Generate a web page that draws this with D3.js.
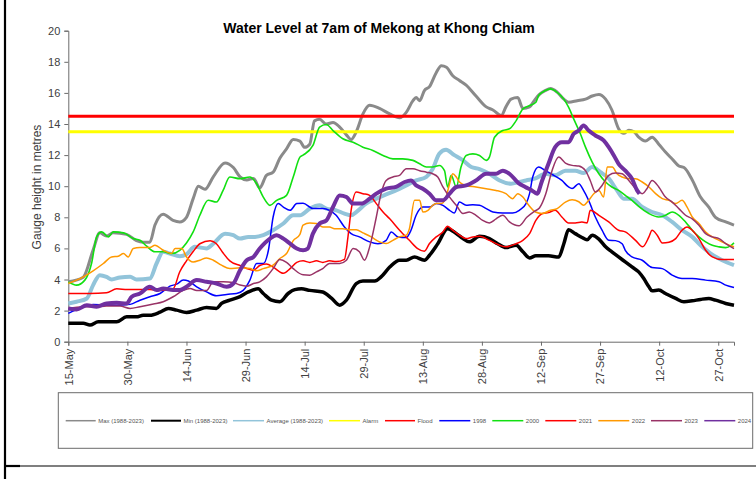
<!DOCTYPE html>
<html>
<head>
<meta charset="utf-8">
<title>Water Level at 7am of Mekong at Khong Chiam</title>
<script src="https://cdn.jsdelivr.net/npm/d3@7"></script>
<style>
  body { margin: 0; background: #fff; }
  svg { display: block; font-family: "Liberation Sans", Arial, sans-serif; }
</style>
</head>
<body>
<svg id="chart" width="756" height="479"></svg>
<script>
// day = days since 15-May, value = gauge height (m)
const startDate = new Date(2024, 4, 15);
const lastDay = 169;

const tickDays = [0, 15, 30, 45, 60, 75, 90, 105, 120, 135, 150, 165];
const tickLabels = ["15-May", "30-May", "14-Jun", "29-Jun", "14-Jul", "29-Jul",
                    "13-Aug", "28-Aug", "12-Sep", "27-Sep", "12-Oct", "27-Oct"];
const yTicks = [0, 2, 4, 6, 8, 10, 12, 14, 16, 18, 20];

const alarmLevel = 13.5;
const floodLevel = 14.5;

const maxLevel = [[0,3.85],[3.8,4.15],[6.3,5.9],[8,7.0],[9.7,6.8],[11.4,7.0],[14.8,6.9],[17.3,6.5],[19,6.4],[20.7,6.4],[22,7.5],[24.1,8.2],[26.6,7.8],[28.3,7.7],[30,8.0],[31.7,9.2],[33,10.0],[34.7,9.8],[36.8,10.6],[39.8,11.5],[41.9,11.2],[43.6,10.6],[45.3,10.4],[47,10.5],[48.6,9.9],[50.3,10.7],[52,10.9],[53.7,11.8],[55.4,12.4],[57.1,13.0],[58.8,12.9],[60,12.5],[61.3,12.7],[62.5,14.2],[63.8,14.3],[65.5,14.0],[67.2,14.1],[68.9,13.8],[70.6,13.3],[71.8,13.0],[73.1,13.5],[74.8,14.65],[76.5,15.2],[79,15.0],[81.6,14.65],[84.1,14.4],[85.8,14.75],[87.5,15.5],[88.3,15.7],[89.2,15.5],[90.4,16.15],[91.7,16.4],[93.4,17.3],[94.7,17.75],[96,17.65],[97.6,17.1],[99.3,16.8],[101,16.5],[103.5,15.8],[106.1,15.1],[107.8,14.9],[109.9,14.55],[111.1,15.1],[112.4,15.6],[114.1,15.7],[115.4,15.0],[117.1,15.1],[118.3,15.5],[119.6,15.9],[121.1,16.15],[122.4,16.28],[124.1,16.05],[125.8,15.6],[127,15.4],[129.2,15.5],[131.3,15.6],[133,15.8],[134.7,15.9],[136.4,15.6],[138,14.9],[139.7,13.7],[141,13.4],[142.3,13.6],[143.6,13.5],[144.8,13.15],[146.5,12.9],[148.2,13.15],[149.9,12.7],[151.6,12.2],[153.3,11.75],[155,11.3],[156.3,11.2],[158.4,10.4],[160.5,9.3],[162.6,8.65],[164.3,8.0],[166.9,7.7],[169,7.5]];

const minLevel = [[0,1.18],[3.8,1.18],[5.5,1.07],[7.6,1.28],[12.3,1.28],[14.8,1.6],[17.3,1.6],[19,1.7],[20.7,1.7],[23.3,1.9],[25.4,2.14],[27.5,2.03],[30,1.88],[32.6,2.03],[35.1,2.2],[37.6,2.14],[38.9,2.46],[41,2.67],[43.6,2.9],[45.7,3.2],[48.2,3.4],[49.5,3.1],[51.6,2.67],[53.7,2.57],[55.8,3.1],[57.5,3.35],[59.2,3.4],[61.3,3.3],[64.6,3.2],[66.8,2.8],[68.9,2.35],[70.6,2.67],[73.1,3.74],[74.8,3.9],[77.8,3.9],[79.4,4.17],[81.6,4.8],[84.1,5.24],[85.8,5.24],[87.9,5.45],[90.4,5.24],[91.7,5.56],[93.8,6.3],[96.3,7.27],[98.5,6.95],[100.2,6.63],[101.8,6.42],[104.4,6.78],[106.9,6.63],[109,6.3],[111.1,6.05],[113.7,6.2],[115.4,5.78],[117.1,5.39],[118.7,5.52],[121.9,5.52],[124.5,5.45],[125.8,6.3],[127,7.2],[128.7,6.95],[130.4,6.7],[131.7,6.55],[133,6.85],[134.7,6.6],[136.4,6.1],[138,5.78],[139.7,5.45],[141.4,5.13],[143.1,4.81],[144.8,4.49],[146.1,4.06],[147.4,3.53],[148.2,3.27],[149.9,3.32],[151.6,3.1],[154.2,2.78],[156.3,2.57],[158.4,2.63],[160.5,2.72],[162.6,2.78],[164.3,2.67],[166.9,2.46],[169,2.35]];

const avgLevel = [[0,2.46],[2.1,2.57],[4.7,2.78],[6.3,3.64],[8,4.28],[9.7,4.17],[11,4.0],[13.1,4.13],[15.7,4.17],[17.3,4.0],[20.7,4.06],[22.4,5.03],[24.1,5.78],[25.8,5.67],[28.3,5.5],[30,5.63],[32.1,6.1],[35.1,6.0],[36.8,6.3],[39.8,6.95],[41.9,6.85],[43.6,6.63],[45.7,6.74],[47.4,6.74],[49.5,6.85],[52,7.17],[54.6,7.6],[57.1,8.13],[58.8,8.13],[61.3,8.56],[63.8,8.77],[65.5,8.56],[68,8.45],[70.1,8.24],[71.8,8.13],[73.1,8.34],[75.6,8.88],[78.2,9.2],[80.7,9.48],[83.2,9.73],[85.8,10.05],[88.3,10.37],[90.9,10.6],[92.5,11.1],[94.2,12.1],[95.9,12.34],[98,12.0],[100.2,11.66],[102.3,11.23],[104.4,11.1],[106.9,10.8],[109.5,10.37],[112.4,10.16],[114.5,10.27],[116.2,10.37],[118.6,10.5],[121.1,10.8],[123.6,10.7],[126.2,11.0],[128.7,11.0],[130.8,10.85],[133,11.23],[135.1,10.9],[137.2,10.5],[139.3,9.73],[141,9.2],[143.1,9.2],[145.7,8.66],[148.2,8.34],[150.8,8.13],[153.3,7.7],[155.8,7.17],[158.4,6.74],[160.5,6.2],[163.1,5.67],[166,5.24],[169,4.92]];

const y1998 = [[0,1.82],[3.8,2.25],[6.3,2.4],[9.7,2.35],[13.1,2.35],[15.7,2.4],[18.2,2.67],[20.7,2.89],[23.3,3.1],[25.8,3.57],[27.5,3.7],[29.2,3.96],[30.5,3.9],[32.6,3.53],[35.1,3.2],[37.6,2.95],[40.2,3.04],[42.7,3.1],[44.4,3.3],[46.1,3.96],[47.8,5.03],[49.5,5.03],[50.8,5.88],[52,8.02],[53.3,8.88],[54.6,8.66],[56.3,8.45],[58,8.88],[59.6,8.9],[62.1,8.56],[64.6,8.56],[66.3,8.45],[68,8.13],[70.1,7.38],[71.8,6.95],[73.9,6.74],[76.5,6.42],[78.6,6.3],[80.7,6.52],[82,7.06],[83.7,6.74],[85.8,6.7],[87,7.17],[88.3,8.13],[90,8.66],[91.7,8.66],[93.4,8.88],[95.1,8.77],[96.8,8.45],[98,8.28],[99.3,8.98],[101,8.77],[102.7,8.8],[104.4,8.77],[106.1,8.56],[107.8,8.34],[110.3,8.28],[112.8,8.28],[114.5,8.45],[116.2,8.88],[117.1,9.52],[117.9,10.59],[119.4,11.23],[121.1,11.0],[122.8,10.76],[125.3,10.37],[127,9.95],[127.9,9.85],[129.6,10.16],[130.8,9.73],[132.1,9.09],[133.8,8.02],[135.5,7.17],[137.2,6.52],[138.9,6.5],[140.6,6.3],[141.4,5.88],[143.1,5.45],[145.7,5.24],[148.2,4.77],[150.8,4.7],[153.3,4.28],[155.8,4.06],[158.4,4.06],[161.8,3.96],[165.2,3.85],[166.9,3.64],[169,3.49]];

const y2000 = [[0,3.85],[2.1,3.64],[4.2,3.96],[5.9,5.03],[7.2,6.74],[8.5,7.06],[10.2,6.74],[11.4,7.06],[14,7.0],[16.5,6.63],[18.2,6.52],[19.9,6.14],[22,5.78],[24.1,5.78],[26.2,5.67],[28.3,5.88],[30,6.35],[31.7,7.06],[33.4,8.13],[35.5,9.1],[37.6,8.98],[39.3,9.73],[41,10.59],[43.6,10.48],[46.1,10.59],[47.8,10.16],[49.5,9.3],[51.2,8.77],[52.9,9.09],[55.4,9.41],[57.1,10.59],[58.8,11.87],[59.6,12.0],[62.1,12.62],[63.8,13.8],[65.5,13.97],[67.2,13.58],[69.7,13.05],[72.3,12.83],[74.8,12.51],[77.3,12.3],[79.9,11.98],[82.4,11.76],[84.9,11.76],[87.5,11.66],[89.2,11.44],[90.9,11.23],[92.5,11.23],[94.2,11.33],[95.5,11.0],[96.3,9.95],[97.2,10.7],[98.5,9.95],[99.7,11.23],[101,11.98],[102.7,12.08],[104.4,11.98],[106.1,11.66],[106.9,11.87],[108.2,13.15],[110.3,13.58],[112,13.69],[113.7,14.22],[115.4,14.97],[117.1,15.19],[118.7,15.4],[119.4,15.83],[121.1,16.15],[122.4,16.26],[124.1,16.04],[125.8,15.6],[127,15.08],[128.3,14.33],[130,13.37],[131.3,12.51],[133,11.55],[134.7,10.8],[136.4,10.27],[138,9.95],[139.7,9.73],[141.4,9.41],[143.1,9.09],[144.8,8.7],[147.4,8.24],[149.9,8.02],[151.6,8.13],[153.3,8.34],[155,8.13],[156.7,7.7],[158.4,7.17],[160.1,6.74],[161.8,6.42],[163.5,6.2],[165.2,6.1],[166.9,6.05],[168.3,6.2],[169,6.35]];

const y2021 = [[0,3.1],[5.5,3.1],[9.7,3.15],[12.3,3.4],[15,3.35],[20.7,3.35],[23.3,3.3],[26.6,3.4],[28.3,4.5],[30,5.2],[31.7,5.8],[33.4,6.3],[36,6.5],[37.6,6.3],[39.3,5.7],[41,5.2],[43.6,4.9],[47,4.6],[48.6,4.9],[50.3,5.0],[52,4.8],[54.6,4.4],[56.3,4.7],[58,5.1],[59.6,5.2],[61.3,5.1],[63,5.2],[64.6,5.1],[66.3,5.2],[68,5.15],[70.1,5.3],[71,6.74],[71.8,8.45],[73.1,9.63],[74.8,9.52],[76.5,9.41],[78.2,8.88],[79.9,8.34],[81.6,7.9],[84.1,7.17],[86.6,6.52],[88.7,5.99],[90.4,5.82],[91.7,6.31],[93.4,6.74],[95.1,7.06],[96.3,7.42],[97.6,7.17],[99.3,6.85],[101,6.63],[102.7,6.74],[104.4,6.78],[106.9,6.52],[109.5,6.2],[111.1,6.1],[113.7,6.3],[115.4,6.52],[117.1,6.95],[118.7,7.8],[120.4,8.24],[121.9,8.3],[123.6,8.45],[125.3,8.02],[127,7.64],[128.7,7.64],[130.4,7.7],[131.7,7.64],[132.5,8.45],[134.7,8.13],[137.2,7.7],[139.7,7.17],[141.4,7.06],[144,6.52],[145.8,6.1],[147.4,6.74],[148.2,7.17],[149.5,6.85],[150.8,6.35],[152.5,6.4],[154.2,6.63],[155.8,7.17],[157.1,7.38],[158.4,7.17],[160.1,6.63],[161.8,5.88],[163.5,5.45],[166,5.28],[169,5.28]];

const y2022 = [[0,3.74],[3.8,4.17],[6.3,4.56],[8.9,5.03],[11,5.45],[12.7,5.5],[14,5.67],[15.2,5.45],[16.5,5.99],[18.2,6.05],[20.7,6.05],[22,6.2],[24.1,5.88],[26.2,5.67],[27.1,5.99],[28.8,5.99],[30,5.45],[31.7,5.13],[33.4,5.24],[35.1,5.39],[36.8,5.24],[38.9,4.92],[41,4.7],[43.6,4.75],[46.1,4.7],[47.8,4.56],[49.5,4.7],[52,4.92],[53.7,5.35],[55.4,5.67],[57.1,6.5],[58.8,6.9],[59.6,7.49],[61.3,7.64],[63,7.6],[64.6,7.38],[66.3,7.38],[67.6,7.27],[69.7,7.27],[71.4,7.2],[73.1,7.2],[74.8,7.0],[76.9,6.74],[79,6.42],[80.7,6.31],[82.4,6.52],[84.1,6.74],[85.8,6.85],[86.6,7.27],[87.9,9.09],[89.2,9.09],[90,8.34],[91.3,8.45],[92.5,8.77],[93.4,8.88],[94.7,8.88],[95.9,9.3],[96.8,10.16],[97.6,10.8],[98.5,10.59],[99.3,10.27],[101,10.05],[103.5,9.95],[106.1,9.84],[108.6,9.73],[111.1,9.52],[112.8,9.2],[114.1,9.52],[115.4,9.3],[116.9,8.77],[118.6,8.34],[120.3,8.24],[122.4,8.45],[124.1,8.56],[126.2,8.98],[127.9,9.13],[129.6,9.0],[130.8,8.77],[132.1,9.09],[133.4,9.52],[134.7,9.73],[135.9,9.3],[136.8,11.23],[138.1,11.23],[139.3,10.8],[140.6,10.59],[142.3,10.48],[144,10.48],[145.7,10.27],[147.4,9.95],[149.1,9.52],[150.8,9.2],[152.5,9.09],[154.2,8.88],[155.8,9.09],[157.1,8.66],[158.4,8.02],[160.1,7.6],[161.8,7.06],[163.5,6.74],[165.2,6.52],[166.9,6.31],[169,6.1]];

const y2023 = [[0,2.14],[3.8,2.25],[7.2,2.25],[9.7,2.29],[13.1,2.29],[15.7,2.14],[18.2,2.25],[21.6,2.42],[24.1,2.57],[26.6,2.89],[29.2,3.3],[30.9,3.42],[32.6,3.3],[35.1,3.3],[36.8,3.85],[39.3,3.85],[41.9,3.8],[43.6,3.64],[45.3,3.57],[47,3.74],[48.6,3.85],[50.3,4.17],[52,4.7],[53.7,5.28],[55.4,5.1],[57.1,4.7],[59.6,4.3],[61.3,4.28],[63,4.49],[64.6,4.7],[66.3,5.03],[68.9,5.03],[70.6,5.24],[72.3,5.99],[73.9,5.78],[75.2,5.24],[76.5,6.1],[78.2,8.02],[79.4,9.52],[80.7,10.37],[82.4,10.59],[84.1,10.7],[85.8,11.12],[87.5,11.12],[89.2,11.0],[90.9,10.9],[92.5,10.8],[93.8,10.59],[95.1,9.95],[96.8,9.3],[98.5,8.77],[100.2,8.24],[101.8,8.34],[103.5,8.13],[105.2,7.8],[106.9,7.64],[108.6,7.9],[110.3,8.13],[112,7.7],[114.4,7.45],[116.4,8.0],[118.4,8.4],[119.6,8.6],[121.2,9.5],[122.8,11.0],[124.5,11.87],[126.2,11.49],[127.9,11.34],[129.6,11.3],[131.3,11.0],[132.5,10.37],[133.8,9.63],[135.5,10.05],[137.2,10.7],[138.9,10.85],[140.6,10.8],[142.3,10.37],[144,9.84],[145.7,9.52],[146.9,9.84],[148.2,10.37],[149.9,9.95],[151.6,9.3],[153.3,8.98],[155,8.56],[156.7,8.13],[158.4,7.9],[160.1,7.49],[161.8,6.95],[163.5,6.74],[165.2,6.63],[166.9,6.31],[169,5.99]];

const y2024 = [[0,2.14],[2.1,2.07],[4.7,2.35],[7.2,2.25],[9.7,2.46],[12.3,2.5],[14.8,2.46],[16.1,2.89],[18.2,3.1],[20.7,3.53],[22.4,3.32],[24.1,3.42],[26.6,3.32],[28.3,3.32],[30,3.53],[32.6,3.96],[35.1,3.85],[37.6,3.74],[40.2,3.53],[41.9,3.74],[43.6,4.6],[45.3,5.24],[47,5.45],[48.6,5.99],[51.2,6.63],[52.9,6.85],[54.6,6.63],[56.3,6.31],[58,5.99],[59.6,5.88],[60.8,5.99],[62.1,6.95],[63.8,7.6],[65.5,7.8],[67.2,8.66],[68.9,9.41],[70.6,9.3],[72.3,8.88],[74.4,8.88],[76.5,9.2],[78.2,9.52],[80.7,9.84],[83.2,9.95],[85.4,10.27],[87,10.37],[88.3,10.05],[90,9.84],[91.7,9.52],[93.4,9.09],[95.1,9.09],[96.8,9.52],[98.5,9.95],[101,10.05],[103.5,10.37],[106.1,10.8],[108.6,10.8],[110.3,11.0],[112,10.8],[114.3,10.2],[116,9.95],[117.7,9.73],[119,9.52],[120.3,10.37],[121.9,11.44],[123.6,12.51],[125.3,12.83],[127,12.83],[128.3,13.37],[129.6,13.58],[130.8,13.9],[132.1,13.58],[133.8,13.26],[135.9,12.94],[137.2,12.51],[138.5,11.98],[139.7,11.44],[141.4,11.0],[143.1,10.48],[144.4,9.73],[145,9.52]];

const seriesNames = ["Max (1988-2023)", "Min (1988-2023)", "Average (1988-2023)", "Alarm", "Flood",
                     "1998", "2000", "2021", "2022", "2023", "2024"];

const svg = d3.select("#chart");

const dayToDate = d => new Date(startDate.getTime() + d * 864e5);
const x = d3.scaleTime()
  .domain([startDate, dayToDate(lastDay)])
  .range([68.3, 734]);
const y = d3.scaleLinear().domain([0, 20]).range([341.7, 30.7]);

// outer frame pieces
svg.append("line").attr("x1", 5).attr("x2", 5).attr("y1", 0).attr("y2", 479)
  .attr("stroke", "#000").attr("stroke-width", 2.2);
svg.append("line").attr("x1", 6).attr("x2", 756).attr("y1", 466).attr("y2", 466)
  .attr("stroke", "#000").attr("stroke-width", 1.2);
svg.append("line").attr("x1", 6).attr("x2", 20).attr("y1", 466).attr("y2", 466)
  .attr("stroke", "#000").attr("stroke-width", 2.2);

// title
svg.append("text").attr("x", 379).attr("y", 33).attr("text-anchor", "middle")
  .attr("font-size", 14).attr("font-weight", "bold").attr("fill", "#000")
  .text("Water Level at 7am of Mekong at Khong Chiam");

// axes
const yAxis = svg.append("g").attr("transform", "translate(68.3,0)")
  .call(d3.axisLeft(y).tickValues(yTicks).tickSize(4).tickPadding(4).tickFormat(d3.format("d")));
const xAxis = svg.append("g").attr("transform", "translate(0,341.7)")
  .call(d3.axisBottom(x).tickValues(tickDays.map(dayToDate))
    .tickSize(4).tickFormat((d, i) => tickLabels[i]));

[xAxis, yAxis].forEach(g => {
  g.select(".domain").attr("stroke", "#6b6b6b");
  g.selectAll(".tick line").attr("stroke", "#6b6b6b");
  g.selectAll("text").attr("fill", "#404040").attr("font-size", 11)
    .attr("font-family", "Liberation Sans, Arial, sans-serif");
});
xAxis.selectAll("text")
  .attr("transform", "rotate(-90)")
  .attr("text-anchor", "end")
  .attr("x", -7).attr("y", 0).attr("dy", "0.35em");

svg.append("text")
  .attr("transform", "translate(41,187) rotate(-90)")
  .attr("text-anchor", "middle").attr("font-size", 12).attr("fill", "#404040")
  .text("Gauge height in metres");

const line = d3.line()
  .x(d => x(dayToDate(d[0])))
  .y(d => y(d[1]))
  .curve(d3.curveMonotoneX);

const flat = v => [[0, v], [lastDay, v]];

const series = [
  { data: maxLevel,        color: "#8a8a8a", width: 3 },
  { data: minLevel,        color: "#000000", width: 3.5 },
  { data: avgLevel,        color: "#92c4da", width: 4 },
  { data: flat(alarmLevel), color: "#ffff00", width: 3 },
  { data: flat(floodLevel), color: "#ff0000", width: 3 },
  { data: y1998,           color: "#0000ff", width: 1.5 },
  { data: y2000,           color: "#11e011", width: 1.6 },
  { data: y2021,           color: "#ff0000", width: 1.5 },
  { data: y2022,           color: "#ff9900", width: 1.5 },
  { data: y2023,           color: "#993366", width: 1.5 },
  { data: y2024,           color: "#7030a0", width: 4 }
];

svg.append("g").selectAll("path")
  .data(series).join("path")
  .attr("d", s => line(s.data))
  .attr("fill", "none")
  .attr("stroke", s => s.color)
  .attr("stroke-width", s => s.width)
  .attr("stroke-linejoin", "round");

// legend
svg.append("rect").attr("x", 58.3).attr("y", 392.7).attr("width", 694.4).attr("height", 55.6)
  .attr("fill", "#fff").attr("stroke", "#6b6b6b").attr("stroke-width", 1);

const legendX = [65.7, 151, 233, 329, 385, 439.3, 492.3, 545.3, 598.3, 651, 704.3];
const legendW = [30, 30, 31, 31, 30, 31, 31, 31, 31, 31, 31];
const lg = svg.append("g").selectAll("g").data(series).join("g")
  .attr("transform", (s, i) => `translate(${legendX[i]},420.7)`);
lg.append("line").attr("x1", 0).attr("x2", (s, i) => legendW[i])
  .attr("stroke", s => s.color)
  .attr("stroke-width", (s, i) => i === 1 ? 2 : 1.5);
lg.append("text").attr("x", (s, i) => legendW[i] + 2.5).attr("dy", "0.35em")
  .attr("font-size", 6).attr("fill", "#555")
  .text((s, i) => seriesNames[i]);
</script>
</body>
</html>
